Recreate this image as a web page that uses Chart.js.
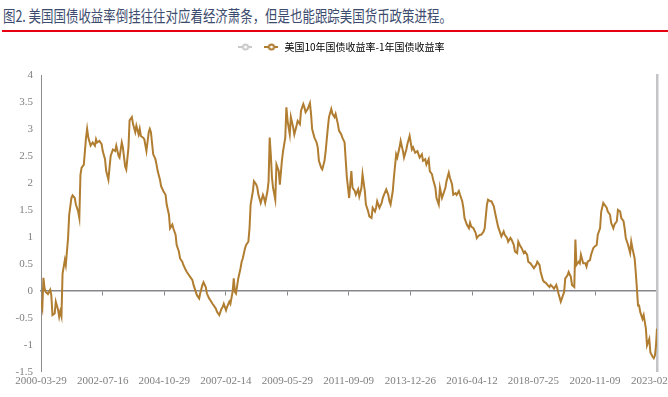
<!DOCTYPE html>
<html>
<head>
<meta charset="utf-8">
<script src="https://cdn.jsdelivr.net/npm/chart.js@4.4.0/dist/chart.umd.min.js"></script>
<style>
html, body { margin: 0; padding: 0; background: #fff; overflow: hidden; width: 668px; height: 397px; }
#title {
    position: absolute; left: 3px; top: 0; height: 30px; line-height: 31px;
    font-family: "Noto Sans CJK SC", sans-serif; font-size: 16px; color: #3d4c6e;
    white-space: nowrap; transform: scaleX(0.778); transform-origin: 0 0;
}
#rule { position: absolute; left: 2px; top: 30px; width: 666px; height: 2px; background: #e60012; }
#wrap { position: absolute; left: 0; top: 37px; width: 720px; height: 360px; }
</style>
</head>
<body>
<div id="title">图2. 美国国债收益率倒挂往往对应着经济萧条，但是也能跟踪美国货币政策进程。</div>
<div id="rule"></div>
<div id="wrap"><canvas id="spreadChart"></canvas></div>
<script>
const seriesName = '美国10年国债收益率-1年国债收益率';

// x-axis tick labels
const tickDates = ['2000-03-29', '2002-07-16', '2004-10-29', '2007-02-14', '2009-05-29', '2011-09-09',
    '2013-12-26', '2016-04-12', '2018-07-25', '2020-11-09', '2023-02-24'];

// y-axis range
const yMin = -1.5;
const yMax = 4;
const yStep = 0.5;

// 10y - 1y spread (%)
const dates = [
    '2000-03-29', '2000-04-16', '2000-05-01', '2000-05-16', '2000-06-01', '2000-07-01', '2000-08-01', '2000-08-16',
    '2000-09-01', '2000-10-01', '2000-10-16', '2000-11-16', '2000-12-01', '2000-12-16',
    '2001-01-01', '2001-01-16', '2001-02-16', '2001-03-01', '2001-04-01', '2001-04-16', '2001-05-16', '2001-06-01',
    '2001-07-01', '2001-07-16', '2001-08-16', '2001-09-01', '2001-09-16', '2001-10-01', '2001-11-01', '2001-12-01', '2001-12-16',
    '2002-01-01', '2002-02-01', '2002-03-01', '2002-04-01', '2002-04-16', '2002-05-01', '2002-06-01', '2002-07-01',
    '2002-07-16', '2002-08-16', '2002-09-01', '2002-10-01', '2002-10-16', '2002-11-01', '2002-12-01',
    '2003-01-01', '2003-01-16', '2003-02-16', '2003-03-01', '2003-04-01', '2003-04-16', '2003-05-16', '2003-06-01',
    '2003-07-01', '2003-07-16', '2003-08-16', '2003-09-01', '2003-10-01', '2003-10-16', '2003-11-16', '2003-12-01', '2003-12-16',
    '2004-01-16', '2004-02-01', '2004-03-01', '2004-04-01', '2004-04-16', '2004-05-01', '2004-06-01', '2004-07-01',
    '2004-07-16', '2004-08-01', '2004-09-01', '2004-09-16', '2004-10-16', '2004-11-16', '2004-12-01',
    '2005-01-01', '2005-01-16', '2005-02-16', '2005-03-01', '2005-04-01', '2005-04-16', '2005-05-16', '2005-06-01',
    '2005-07-01', '2005-07-16', '2005-08-16', '2005-09-01', '2005-10-01', '2005-10-16', '2005-11-16', '2005-12-01',
    '2006-01-01', '2006-01-16', '2006-02-16', '2006-03-01', '2006-04-01', '2006-04-16', '2006-05-16', '2006-06-01',
    '2006-07-01', '2006-07-16', '2006-08-16', '2006-09-01', '2006-10-01', '2006-10-16', '2006-11-16', '2006-12-16',
    '2007-01-01', '2007-01-16', '2007-02-16', '2007-03-01', '2007-04-01', '2007-04-16', '2007-05-16', '2007-06-01',
    '2007-06-16', '2007-07-01', '2007-08-01', '2007-09-01', '2007-09-16', '2007-10-01', '2007-11-01', '2007-11-16', '2007-12-16',
    '2008-01-01', '2008-01-16', '2008-02-16', '2008-03-01', '2008-04-01', '2008-04-16', '2008-05-01', '2008-06-01',
    '2008-07-01', '2008-07-16', '2008-08-01', '2008-09-01', '2008-09-16', '2008-10-01', '2008-10-16', '2008-11-01',
    '2008-11-16', '2008-12-16',
    '2009-01-01', '2009-02-01', '2009-02-16', '2009-03-16', '2009-04-01', '2009-05-01', '2009-05-16', '2009-06-01',
    '2009-07-01', '2009-07-16', '2009-08-16', '2009-09-01', '2009-10-01', '2009-10-16', '2009-11-16', '2009-12-01',
    '2010-01-01', '2010-01-16', '2010-02-01', '2010-03-01', '2010-04-01', '2010-04-16', '2010-05-01', '2010-06-01',
    '2010-07-01', '2010-07-16', '2010-08-01', '2010-09-01', '2010-09-16', '2010-10-16', '2010-11-01', '2010-12-01', '2010-12-16',
    '2011-01-16', '2011-02-01', '2011-03-01', '2011-03-16', '2011-04-16', '2011-05-01', '2011-06-01', '2011-06-16',
    '2011-07-16', '2011-08-01', '2011-08-16', '2011-09-01', '2011-09-16', '2011-10-16', '2011-11-01', '2011-12-01', '2011-12-16',
    '2012-01-16', '2012-02-01', '2012-03-01', '2012-03-16', '2012-04-16', '2012-05-01', '2012-06-01', '2012-06-16',
    '2012-07-16', '2012-08-01', '2012-09-01', '2012-09-16', '2012-10-01', '2012-11-01', '2012-12-01', '2012-12-16',
    '2013-01-01', '2013-02-01', '2013-03-01', '2013-03-16', '2013-04-01', '2013-05-01', '2013-05-16', '2013-06-16',
    '2013-07-01', '2013-08-01', '2013-08-16', '2013-09-16', '2013-10-01', '2013-11-01', '2013-11-16', '2013-12-16',
    '2014-01-16', '2014-02-01', '2014-03-01', '2014-04-01', '2014-04-16', '2014-05-01', '2014-06-01', '2014-06-16',
    '2014-07-16', '2014-08-01', '2014-09-01', '2014-09-16', '2014-10-16', '2014-11-01', '2014-12-01', '2014-12-16',
    '2015-01-16', '2015-02-01', '2015-03-01', '2015-03-16', '2015-04-16', '2015-05-01', '2015-06-01', '2015-06-16',
    '2015-07-16', '2015-08-01', '2015-09-01', '2015-09-16', '2015-10-16', '2015-11-01', '2015-12-01', '2015-12-16',
    '2016-01-01', '2016-02-01', '2016-03-01', '2016-03-16', '2016-04-01', '2016-05-01', '2016-06-01', '2016-06-16',
    '2016-07-01', '2016-08-01', '2016-08-16', '2016-09-16', '2016-10-01', '2016-11-01', '2016-11-16', '2016-12-16',
    '2017-01-01', '2017-02-01', '2017-02-16', '2017-03-16', '2017-04-01', '2017-05-01', '2017-05-16', '2017-06-16',
    '2017-07-01', '2017-08-01', '2017-08-16', '2017-09-16', '2017-10-01', '2017-11-01', '2017-11-16', '2017-12-16',
    '2018-01-01', '2018-02-01', '2018-02-16', '2018-03-16', '2018-04-01', '2018-05-01', '2018-05-16', '2018-06-16',
    '2018-07-01', '2018-08-01', '2018-08-16', '2018-09-01', '2018-09-16', '2018-10-16', '2018-11-01', '2018-12-01', '2018-12-16',
    '2019-01-16', '2019-02-01', '2019-03-01', '2019-03-16', '2019-04-16', '2019-05-01', '2019-06-01', '2019-06-16',
    '2019-07-01', '2019-08-01', '2019-09-01', '2019-09-16', '2019-10-01', '2019-11-01', '2019-11-16', '2019-12-16',
    '2020-01-01', '2020-02-01', '2020-02-16', '2020-03-01', '2020-04-01', '2020-04-16', '2020-05-01', '2020-06-01',
    '2020-07-01', '2020-07-16', '2020-08-01', '2020-09-01', '2020-09-16', '2020-10-16', '2020-11-01', '2020-12-01', '2020-12-16',
    '2021-01-16', '2021-02-01', '2021-03-01', '2021-03-16', '2021-04-16', '2021-05-01', '2021-06-01', '2021-06-16',
    '2021-07-16', '2021-08-01', '2021-09-01', '2021-09-16', '2021-10-16', '2021-11-01', '2021-12-01', '2021-12-16',
    '2022-01-01', '2022-02-01', '2022-03-01', '2022-03-16', '2022-04-01', '2022-05-01', '2022-05-16', '2022-06-01',
    '2022-06-16', '2022-07-01', '2022-07-16', '2022-08-16', '2022-09-01', '2022-10-01', '2022-10-16', '2022-11-16', '2022-12-01',
    '2023-01-01', '2023-01-16', '2023-02-01', '2023-02-16', '2023-03-01'
];

const spread = [
    -0.2, -0.32, 0.24, 0.05, -0.02, -0.06, 0.02, -0.08,
    -0.45, -0.42, -0.2, -0.35, -0.48, -0.38,
    -0.47, 0.32, 0.57, 0.48, 0.98, 1.41, 1.72, 1.77,
    1.72, 1.6, 1.47, 1.35, 2.15, 2.28, 2.34, 2.84, 3.0,
    2.84, 2.69, 2.75, 2.69, 2.81, 2.75, 2.78, 2.72,
    2.59, 2.44, 2.22, 2.06, 2.28, 2.5, 2.62,
    2.59, 2.69, 2.5, 2.47, 2.75, 2.66, 2.31, 2.25,
    2.66, 3.16, 3.22, 3.09, 2.94, 3.06, 2.9, 3.0, 2.87,
    2.84, 2.81, 2.59, 2.94, 3.0, 2.94, 2.53, 2.44,
    2.34, 2.22, 2.06, 1.94, 1.85, 1.78, 1.6,
    1.41, 1.16, 1.23, 1.16, 1.04, 0.85, 0.73, 0.6,
    0.54, 0.48, 0.39, 0.35, 0.29, 0.26, 0.2, 0.11,
    -0.02, -0.08, -0.14, -0.05, 0.11, 0.16, 0.07, -0.05,
    -0.14, -0.17, -0.24, -0.27, -0.33, -0.39, -0.45, -0.33,
    -0.3, -0.24, -0.36, -0.3, -0.2, -0.24, -0.02, 0.23,
    -0.02, -0.05, 0.23, 0.42, 0.54, 0.6, 0.79, 0.85, 0.91,
    1.16, 1.6, 1.85, 2.03, 1.97, 1.91, 1.78, 1.63,
    1.78, 1.72, 1.63, 1.85, 2.03, 2.84, 2.53, 2.1,
    1.91, 1.69,
    2.34, 2.22, 1.97, 2.41, 2.59, 2.84, 3.4, 3.15,
    2.9, 3.22, 3.03, 2.9, 3.06, 3.15, 3.09, 3.34,
    3.46, 3.4, 3.31, 3.37, 3.48, 3.28, 3.0, 2.84,
    2.75, 2.66, 2.41, 2.28, 2.25, 2.41, 2.59, 3.03, 3.22,
    3.37, 3.28, 3.22, 3.28, 3.09, 2.97, 2.9, 2.84,
    2.75, 2.41, 2.1, 1.91, 1.72, 2.22, 1.91, 1.85, 1.78,
    1.88, 1.75, 1.91, 2.16, 1.85, 1.6, 1.47, 1.38,
    1.35, 1.54, 1.47, 1.54, 1.66, 1.54, 1.63, 1.72,
    1.78, 1.88, 1.78, 1.66, 1.6, 1.85, 2.1, 2.53,
    2.47, 2.66, 2.78, 2.59, 2.47, 2.62, 2.72, 2.87,
    2.62, 2.66, 2.56, 2.59, 2.53, 2.47, 2.53, 2.41,
    2.44, 2.34, 2.44, 2.22, 2.16, 2.06, 1.91, 1.72,
    1.6, 1.91, 1.72, 1.78, 1.91, 2.03, 2.19, 2.1,
    1.97, 1.78, 1.81, 1.78, 1.85, 1.78, 1.66, 1.54,
    1.35, 1.23, 1.16, 1.26, 1.19, 1.16, 1.07, 0.98,
    1.01, 1.04, 1.04, 1.1, 1.16, 1.6, 1.69, 1.66,
    1.66, 1.57, 1.47, 1.29, 1.19, 1.07, 1.01, 1.1,
    1.04, 0.98, 0.91, 0.98, 0.95, 0.85, 0.73, 0.7,
    0.91, 0.82, 0.79, 0.7, 0.73, 0.67, 0.54, 0.51,
    0.48, 0.42, 0.45, 0.48, 0.54, 0.48, 0.35, 0.2, 0.17,
    0.14, 0.11, 0.07, 0.11, 0.07, 0.04, 0.11, 0.04,
    -0.05, -0.2, -0.08, -0.02, 0.23, 0.29, 0.35, 0.26,
    0.11, 0.07, 0.95, 0.48, 0.54, 0.51, 0.67, 0.51,
    0.51, 0.45, 0.54, 0.57, 0.67, 0.79, 0.82, 0.85, 1.04,
    1.16, 1.47, 1.63, 1.6, 1.54, 1.47, 1.41, 1.26,
    1.16, 1.23, 1.29, 1.5, 1.47, 1.35, 1.29, 1.16,
    0.98, 0.85, 0.7, 0.91, 0.79, 0.6, 0.35, 0.04,
    -0.27, -0.27, -0.39, -0.52, -0.45, -0.7, -1.01, -0.89, -1.14,
    -1.22, -1.25, -1.2, -1.0, -0.7
];

const colors = {
    line: '#b07d31',
    legendGray: '#cacaca',
    axis: '#8c8c8c',
    zero: '#86868c',
    rightAxis: '#c3c3c8',
    tick: '#7f7f7f',
    legendText: '#595959'
};

const toTime = d => Date.parse(d);
const xMin = toTime(dates[0]);
const xMax = toTime(dates[dates.length - 1]);

// line with hollow circle, like the legend marker in the picture
function legendMarker(color) {
    const c = document.createElement('canvas');
    c.width = 14;
    c.height = 8;
    const g = c.getContext('2d');
    g.strokeStyle = color;
    g.lineWidth = 2;
    g.beginPath();
    g.moveTo(0, 4);
    g.lineTo(14, 4);
    g.stroke();
    g.fillStyle = '#fff';
    g.beginPath();
    g.arc(7, 4, 2.6, 0, Math.PI * 2);
    g.fill();
    g.stroke();
    return c;
}

const setDateTicks = scale => {
    scale.ticks = tickDates.map(d => ({ value: toTime(d) }));
};

// fixed legend height, and nudge it right so it sits where the picture has it
const legendBox = {
    id: 'legendBox',
    beforeInit(chart) {
        const fit = chart.legend.fit;
        chart.legend.fit = function () {
            fit.bind(chart.legend)();
            this.height = 38;
        };
    },
    afterLayout(chart) {
        chart.legend.left += 10;
        chart.legend.right += 10;
    }
};

const ctx = document.getElementById('spreadChart').getContext('2d');
new Chart(ctx, {
    type: 'line',
    data: {
        datasets: [{
            label: seriesName,
            data: dates.map((d, i) => ({ x: toTime(d), y: spread[i] })),
            borderColor: colors.line,
            borderWidth: 2,
            pointRadius: 0,
            tension: 0,
            fill: false
        }]
    },
    options: {
        responsive: true,
        maintainAspectRatio: false,
        animation: false,
        layout: { padding: { left: 5, right: 63, top: 0, bottom: 6 } },
        scales: {
            x: {
                type: 'linear',
                min: xMin,
                max: xMax,
                afterBuildTicks: setDateTicks,
                grid: { display: false, drawTicks: false },
                border: { display: false },
                ticks: {
                    autoSkip: false,
                    maxRotation: 0,
                    padding: 3,
                    color: colors.tick,
                    font: { family: "'Liberation Serif', serif", size: 11 },
                    callback: (v, i) => tickDates[i]
                }
            },
            // zero line with the small tick marks
            x0: {
                axis: 'x',
                type: 'linear',
                position: { y: 0 },
                min: xMin,
                max: xMax,
                afterBuildTicks: setDateTicks,
                ticks: { display: false },
                grid: { display: true, drawOnChartArea: false, drawTicks: true, tickLength: 4, color: colors.zero, lineWidth: 1 },
                border: { display: true, color: colors.zero, width: 1.5 }
            },
            y: {
                min: yMin,
                max: yMax,
                afterFit: s => { s.width = 36; },
                grid: { display: false, drawTicks: false },
                border: { color: colors.axis, width: 1 },
                ticks: {
                    stepSize: yStep,
                    padding: 8,
                    color: colors.tick,
                    font: { family: "'Liberation Serif', serif", size: 11 },
                    callback: v => String(v)
                }
            },
            yRight: {
                position: 'right',
                min: yMin,
                max: yMax,
                grid: { display: false, drawTicks: false },
                ticks: { display: false },
                border: { color: colors.rightAxis, width: 2.5 }
            }
        },
        plugins: {
            legend: {
                position: 'top',
                labels: {
                    usePointStyle: true,
                    pointStyleWidth: 16,
                    padding: 5,
                    color: colors.legendText,
                    font: { family: "'Noto Sans CJK SC', sans-serif", size: 10 },
                    generateLabels: () => [
                        { text: '', pointStyle: legendMarker(colors.legendGray), fillStyle: '#fff', strokeStyle: colors.legendGray, lineWidth: 0, hidden: false },
                        { text: seriesName, pointStyle: legendMarker(colors.line), fillStyle: '#fff', strokeStyle: colors.line, lineWidth: 0, hidden: false, datasetIndex: 0 }
                    ]
                }
            },
            tooltip: { enabled: false }
        }
    },
    plugins: [legendBox]
});
</script>
</body>
</html>
